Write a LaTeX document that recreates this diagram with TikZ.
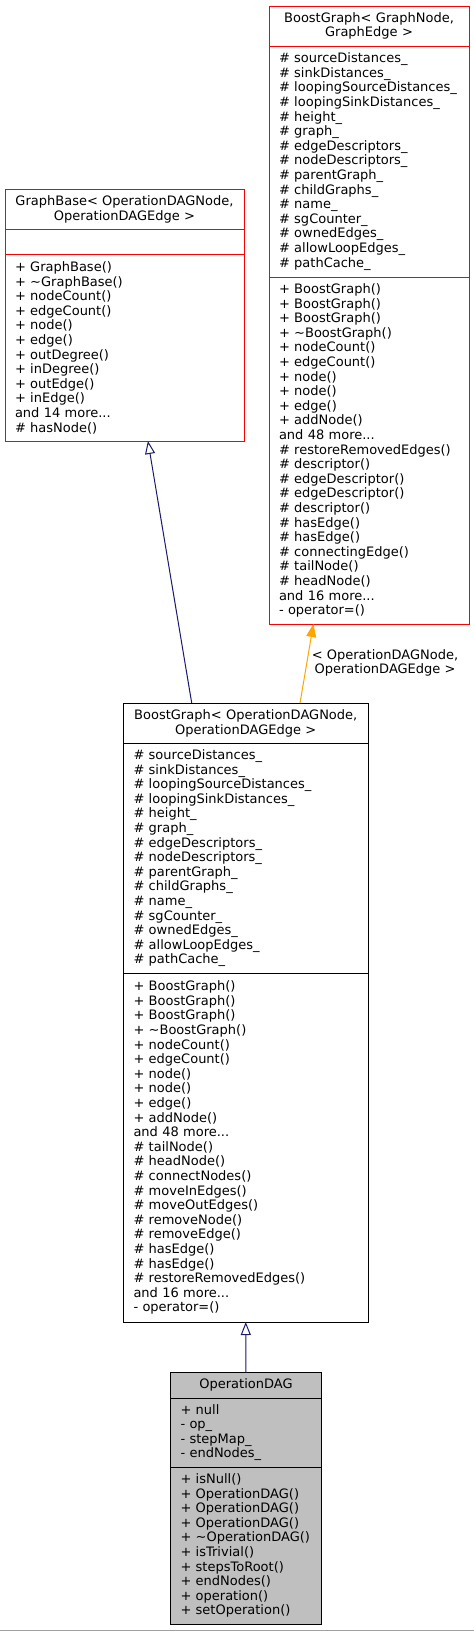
\documentclass[tikz,border=0pt]{standalone}
\usepackage{fontspec}
\setmainfont{DejaVu Sans}
\usetikzlibrary{arrows.meta,calc}
\definecolor{dred}{HTML}{FF0000}
\definecolor{dblue}{HTML}{191970}
\definecolor{dorange}{HTML}{FFA500}
\definecolor{dgray}{HTML}{BFBFBF}
\definecolor{dblack}{HTML}{000000}
\definecolor{edgegray}{HTML}{A0A0A0}
\tikzset{
  txt/.style={font=\fontsize{13}{14.6}\selectfont},
  sect/.style={txt, draw, line width=1pt, anchor=north west, outer sep=0pt, inner xsep=10pt, inner ysep=0pt, align=left},
  ttl/.style={sect, align=center},
  redbox/.style={draw=dred},
  blackbox/.style={draw=dblack},
  graybox/.style={draw=dblack, fill=dgray},
  inh/.style={draw=dblue, line width=1pt, -{Triangle[open, length=13pt, width=10pt, fill=white]}},
  tmpl/.style={draw=dorange, line width=1pt, -{Triangle[length=13pt, width=10pt]}},
  baseline rule/.style={draw=edgegray, line width=1pt},
}
\begin{document}
\begin{tikzpicture}[x=1pt, y=-1pt]
\useasboundingbox (0,0) rectangle (474,1631);
% BoostGraph<GraphNode,GraphEdge>
\node[ttl, redbox, text width=180pt, minimum height=40pt] (Rt) at (269,6) {BoostGraph< GraphNode,\\GraphEdge >};
\node[sect, redbox, text width=180pt, minimum height=231pt] (Ra) at (Rt.south west) {\# sourceDistances\_\\\# sinkDistances\_\\\# loopingSourceDistances\_\\\# loopingSinkDistances\_\\\# height\_\\\# graph\_\\\# edgeDescriptors\_\\\# nodeDescriptors\_\\\# parentGraph\_\\\# childGraphs\_\\\# name\_\\\# sgCounter\_\\\# ownedEdges\_\\\# allowLoopEdges\_\\\# pathCache\_};
\node[sect, redbox, text width=180pt, minimum height=347pt] (Rm) at (Ra.south west) {+ BoostGraph()\\+ BoostGraph()\\+ BoostGraph()\\+ \textasciitilde BoostGraph()\\+ nodeCount()\\+ edgeCount()\\+ node()\\+ node()\\+ edge()\\+ addNode()\\and 48 more...\\\# restoreRemovedEdges()\\\# descriptor()\\\# edgeDescriptor()\\\# edgeDescriptor()\\\# descriptor()\\\# hasEdge()\\\# hasEdge()\\\# connectingEdge()\\\# tailNode()\\\# headNode()\\and 16 more...\\- operator=()};
% GraphBase
\node[ttl, redbox, text width=219pt, minimum height=40pt] (Lt) at (5,189.3) {GraphBase< OperationDAGNode,\\OperationDAGEdge >};
\node[sect, redbox, text width=219pt, minimum height=25pt] (La) at (Lt.south west) {};
\node[sect, redbox, text width=219pt, minimum height=186.7pt] (Lm) at (La.south west) {+ GraphBase()\\+ \textasciitilde GraphBase()\\+ nodeCount()\\+ edgeCount()\\+ node()\\+ edge()\\+ outDegree()\\+ inDegree()\\+ outEdge()\\+ inEdge()\\and 14 more...\\\# hasNode()};
% BoostGraph<OperationDAGNode,OperationDAGEdge>
\node[ttl, blackbox, text width=224.5pt, minimum height=40.3pt] (Mt) at (123.5,703) {BoostGraph< OperationDAGNode,\\OperationDAGEdge >};
\node[sect, blackbox, text width=224.5pt, minimum height=230pt] (Ma) at (Mt.south west) {\# sourceDistances\_\\\# sinkDistances\_\\\# loopingSourceDistances\_\\\# loopingSinkDistances\_\\\# height\_\\\# graph\_\\\# edgeDescriptors\_\\\# nodeDescriptors\_\\\# parentGraph\_\\\# childGraphs\_\\\# name\_\\\# sgCounter\_\\\# ownedEdges\_\\\# allowLoopEdges\_\\\# pathCache\_};
\node[sect, blackbox, text width=224.5pt, minimum height=348.7pt] (Mm) at (Ma.south west) {+ BoostGraph()\\+ BoostGraph()\\+ BoostGraph()\\+ \textasciitilde BoostGraph()\\+ nodeCount()\\+ edgeCount()\\+ node()\\+ node()\\+ edge()\\+ addNode()\\and 48 more...\\\# tailNode()\\\# headNode()\\\# connectNodes()\\\# moveInEdges()\\\# moveOutEdges()\\\# removeNode()\\\# removeEdge()\\\# hasEdge()\\\# hasEdge()\\\# restoreRemovedEdges()\\and 16 more...\\- operator=()};
% OperationDAG
\node[ttl, graybox, text width=131pt, minimum height=25.3pt] (Bt) at (170.5,1372.7) {OperationDAG};
\node[sect, graybox, text width=131pt, minimum height=69pt] (Ba) at (Bt.south west) {+ null\\- op\_\\- stepMap\_\\- endNodes\_};
\node[sect, graybox, text width=131pt, minimum height=157.3pt] (Bm) at (Ba.south west) {+ isNull()\\+ OperationDAG()\\+ OperationDAG()\\+ OperationDAG()\\+ \textasciitilde OperationDAG()\\+ isTrivial()\\+ stepsToRoot()\\+ endNodes()\\+ operation()\\+ setOperation()};
% connectors
\draw[inh] ($(Mt.north west)!0.279!(Mt.north east)$) -- ($(Lm.south west)!0.598!(Lm.south east)$);
\draw[tmpl] ($(Mt.north west)!0.722!(Mt.north east)$) -- ($(Rm.south west)!0.222!(Rm.south east)$);
\draw[inh] (Bt.north) -- (Mm.south);
\node[txt, align=center, inner sep=0pt] (lbl) at (385,663) {< OperationDAGNode,\\OperationDAGEdge >};
% bottom rule of the picture
\coordinate (ruleL) at (0,1630);
\coordinate (ruleR) at (474,1630);
\draw[baseline rule] (ruleL) -- (ruleR);
\end{tikzpicture}
\end{document}
